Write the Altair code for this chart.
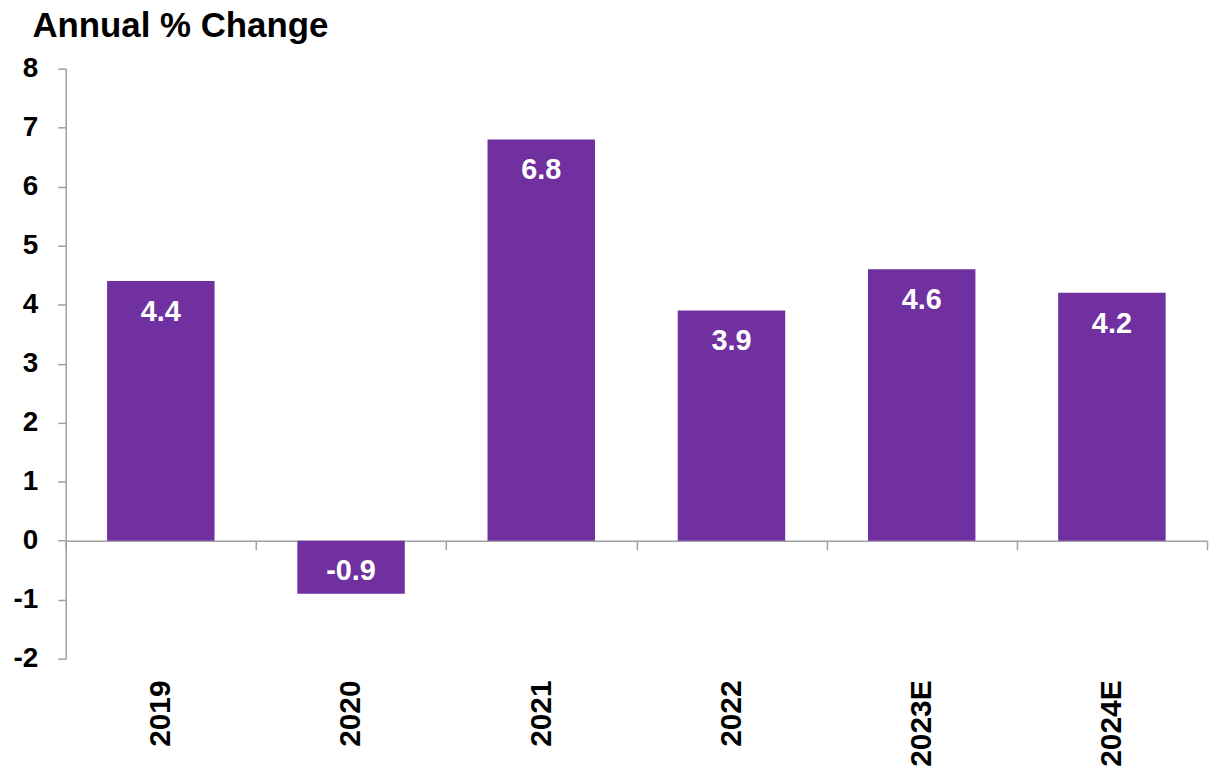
import altair as alt
import pandas as pd

categories = ["2019", "2020", "2021", "2022", "2023E", "2024E"]
values = [4.4, -0.9, 6.8, 3.9, 4.6, 4.2]
labels = ["4.4", "-0.9", "6.8", "3.9", "4.6", "4.2"]
y_ticks = [-2, -1, 0, 1, 2, 3, 4, 5, 6, 7, 8]

df = pd.DataFrame({"year": categories, "value": values, "label": labels})

W, H = 1147, 593
ymin, ymax = y_ticks[0], y_ticks[-1]
zero_offset = -H * (0 - ymin) / (ymax - ymin)

FONT = "Liberation Sans"
GRAY = "#a0a0a0"
PURPLE = "#7030A0"

x_scale = alt.Scale(paddingInner=0, paddingOuter=0)
y_scale = alt.Scale(domain=[ymin, ymax], nice=False, zero=False)

x_axis = alt.Axis(
    orient="bottom",
    offset=zero_offset,
    tickBand="extent",
    tickSize=9,
    tickColor=GRAY,
    domainColor=GRAY,
    domainWidth=1.5,
    tickWidth=1.5,
    labelAngle=270,
    labelPadding=131,
    labelFont=FONT,
    labelFontSize=30,
    labelFontWeight="bold",
    labelColor="black",
    title=None,
    grid=False,
)

y_axis = alt.Axis(
    values=y_ticks,
    labelExpr="'' + datum.value",
    tickSize=8,
    tickColor=GRAY,
    domainColor=GRAY,
    domainWidth=1.5,
    tickWidth=1.5,
    labelPadding=20,
    labelFont=FONT,
    labelFontSize=28,
    labelFontWeight="bold",
    labelColor="black",
    grid=False,
    title="Annual % Change",
    titleAngle=0,
    titleX=-34,
    titleY=-32,
    titleAlign="left",
    titleBaseline="alphabetic",
    titleFont=FONT,
    titleFontSize=35,
    titleFontWeight="bold",
    titleColor="black",
)

bars = alt.Chart(df).mark_bar(
    color=PURPLE, width=alt.RelativeBandSize(0.565)
).encode(
    x=alt.X("year:N", sort=categories, scale=x_scale, axis=x_axis),
    y=alt.Y("value:Q", scale=y_scale, axis=y_axis, title="Annual % Change"),
)

text = alt.Chart(df).transform_calculate(
    ypos="max(datum.value, 0)"
).mark_text(
    color="white", font=FONT, fontSize=29, fontWeight="bold",
    baseline="middle", align="center", dy=31
).encode(
    x=alt.X("year:N", sort=categories, scale=x_scale, axis=x_axis),
    y=alt.Y("ypos:Q", scale=y_scale, axis=y_axis, title="Annual % Change"),
    text="label:N",
)

chart = alt.layer(bars, text).properties(
    width=W,
    height=H,
    autosize=alt.AutoSizeParams(type="none"),
    padding={"left": 58, "top": 59, "right": 2, "bottom": 115},
).configure(background="white").configure_view(stroke=None)

chart.save("out.html", embed_options={"renderer": "svg", "actions": False})
